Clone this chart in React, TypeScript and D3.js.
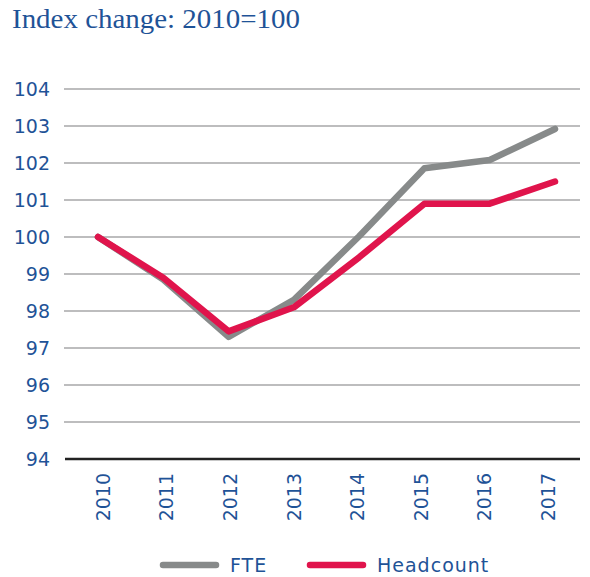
import React from "react";
import * as d3 from "d3";

const years = ["2010", "2011", "2012", "2013", "2014", "2015", "2016", "2017"];
const fte = [100, 98.85, 97.3, 98.3, 100.02, 101.86, 102.08, 102.92];
const headcount = [100, 98.9, 97.45, 98.1, 99.45, 100.9, 100.9, 101.5];
const yTicks = [94, 95, 96, 97, 98, 99, 100, 101, 102, 103, 104];
const title = "Index change: 2010=100";
const legendItems = [
  { name: "FTE", color: "#878a8a" },
  { name: "Headcount", color: "#e0144c" },
];

const W = 590;
const H = 577;
const blue = "#1f5397";
const sans = "'DejaVu Sans', 'Open Sans', sans-serif";

export default function App() {
  const x = d3.scalePoint<string>().domain(years).range([98, 555]);
  const xl = d3.scalePoint<string>().domain(years).range([103, 548]);
  const y = d3.scaleLinear().domain([94, 104]).range([459, 89]);
  const line = d3
    .line<number>()
    .x((_, i) => x(years[i]) as number)
    .y((d) => y(d));

  const series = [
    { values: fte, color: legendItems[0].color },
    { values: headcount, color: legendItems[1].color },
  ];

  return (
    <svg
      width={W}
      height={H}
      style={{ position: "absolute", left: 0, top: 0, background: "#fff" }}
    >
      <text
        x={12}
        y={28}
        fontFamily="'Liberation Serif', 'DejaVu Serif', serif"
        fontSize={27}
        fill={blue}
        textLength={288}
        lengthAdjust="spacingAndGlyphs"
      >
        {title}
      </text>
      {yTicks.map((t) => (
        <g key={t}>
          {t !== 94 && (
            <line
              x1={64}
              x2={580}
              y1={y(t)}
              y2={y(t)}
              stroke="#a7a7a9"
              strokeWidth={1.6}
            />
          )}
          <text
            x={50}
            y={y(t)}
            dy="0.36em"
            textAnchor="end"
            fontFamily={sans}
            fontSize={19}
            fill={blue}
          >
            {t}
          </text>
        </g>
      ))}
      <line x1={65} x2={580} y1={y(94)} y2={y(94)} stroke="#222" strokeWidth={2.5} />
      {years.map((yr) => (
        <text
          key={yr}
          transform={`translate(${xl(yr)},473) rotate(-90)`}
          textAnchor="end"
          dy="0.36em"
          fontFamily={sans}
          fontSize={19}
          fill={blue}
        >
          {yr}
        </text>
      ))}
      {series.map((s, i) => (
        <path
          key={i}
          d={line(s.values) as string}
          fill="none"
          stroke={s.color}
          strokeWidth={6.5}
          strokeLinecap="round"
          strokeLinejoin="round"
        />
      ))}
      {legendItems.map((it, i) => {
        const lx = i === 0 ? 163 : 310;
        return (
          <g key={it.name}>
            <line
              x1={lx}
              x2={lx + 53}
              y1={565}
              y2={565}
              stroke={it.color}
              strokeWidth={6.5}
              strokeLinecap="round"
            />
            <text
              x={lx + 67}
              y={572}
              fontFamily={sans}
              fontSize={19}
              letterSpacing={1}
              fill={blue}
            >
              {it.name}
            </text>
          </g>
        );
      })}
    </svg>
  );
}
